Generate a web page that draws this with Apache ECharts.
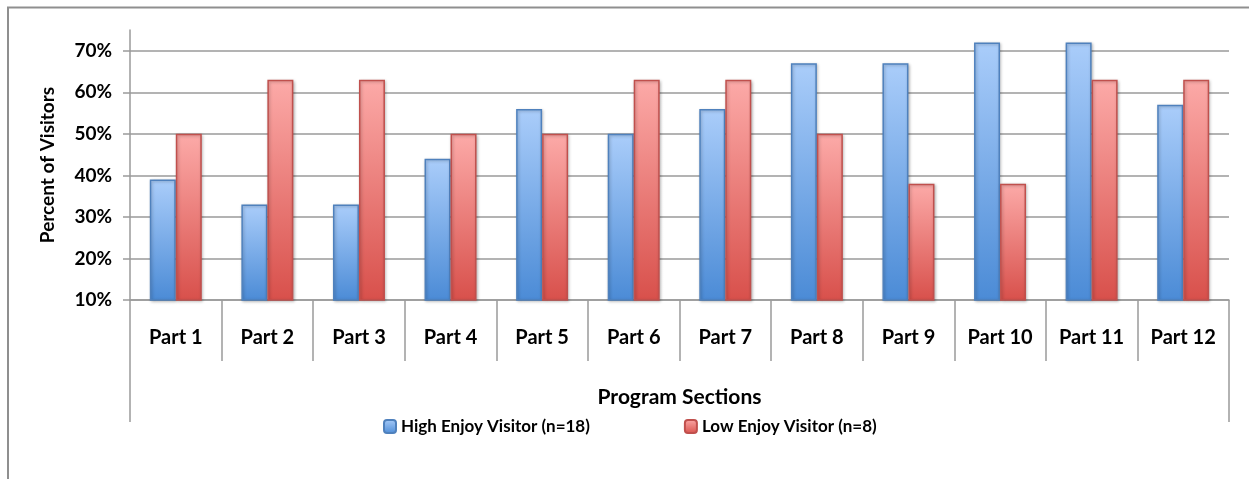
<!DOCTYPE html>
<html>
<head>
<meta charset="utf-8">
<script src="https://cdn.jsdelivr.net/npm/echarts@6/dist/echarts.min.js"></script>
<style>
  html, body { margin: 0; padding: 0; background: #fff; }
  #main { width: 1249px; height: 479px; }
</style>
</head>
<body>
<div id="main"></div>
<script>
// data
var parts = ['Part 1', 'Part 2', 'Part 3', 'Part 4', 'Part 5', 'Part 6',
             'Part 7', 'Part 8', 'Part 9', 'Part 10', 'Part 11', 'Part 12'];
var highEnjoy = [39, 33, 33, 44, 56, 50, 56, 67, 67, 72, 72, 57];
var lowEnjoy  = [50, 63, 63, 50, 50, 63, 63, 50, 38, 38, 63, 63];
var seriesNames = ['High Enjoy Visitor (n=18)', 'Low Enjoy Visitor (n=8)'];

var font = 'Lato, "Open Sans", sans-serif';
var gray = '#9a9a9a';

function grad(top, bottom) {
    return new echarts.graphic.LinearGradient(0, 0, 0, 1, [
        {offset: 0, color: top},
        {offset: 1, color: bottom}
    ]);
}

var chart = echarts.init(document.getElementById('main'));

var option = {
    backgroundColor: '#fff',
    animation: false,
    grid: {left: 130, right: 20, top: 30, bottom: 179, containLabel: false},
    legend: {
        left: 383,
        top: 418,
        padding: 0,
        itemWidth: 12,
        itemHeight: 13,
        itemGap: 94,
        textStyle: {fontFamily: font, fontWeight: 'bold', fontSize: 17, color: '#000'},
        data: seriesNames
    },
    xAxis: [{
        type: 'category',
        data: parts,
        name: 'Program Sections',
        nameLocation: 'middle',
        nameGap: 87,
        nameTextStyle: {fontFamily: font, fontWeight: 'bold', fontSize: 21, color: '#000'},
        axisLine: {lineStyle: {color: gray, width: 1.5}},
        axisTick: {show: true, length: 61, interval: 0, lineStyle: {color: gray, width: 1.5}},
        axisLabel: {margin: 28, interval: 0, fontFamily: font, fontWeight: 'bold', fontSize: 20, color: '#000'}
    }, {
        // outer box of the category group (left and right edge lines)
        type: 'category',
        data: [''],
        position: 'bottom',
        axisLine: {show: false},
        axisTick: {show: true, length: 122, lineStyle: {color: gray, width: 1.5}},
        axisLabel: {show: false}
    }],
    yAxis: {
        type: 'value',
        min: 10,
        max: 75,
        interval: 10,
        name: 'Percent of Visitors',
        nameLocation: 'middle',
        nameGap: 73,
        nameTextStyle: {fontFamily: font, fontWeight: 'bold', fontSize: 19, color: '#000'},
        axisLine: {show: true, lineStyle: {color: gray, width: 1.5}},
        axisTick: {show: true, length: 7, lineStyle: {color: gray, width: 1.5}},
        axisLabel: {
            margin: 18,
            showMaxLabel: false,
            formatter: '{value}%',
            fontFamily: font, fontWeight: 'bold', fontSize: 19, color: '#000'
        },
        splitLine: {show: true, showMaxLine: false, lineStyle: {color: gray, width: 1.5}}
    },
    graphic: [{
        type: 'polyline',
        shape: {points: [[8, 479], [8, 7.5], [1249, 7.5]]},
        style: {stroke: '#8f8f8f', lineWidth: 2, fill: null}
    }],
    series: [{
        name: seriesNames[0],
        type: 'bar',
        data: highEnjoy,
        barWidth: 26,
        barGap: '0%',
        itemStyle: {
            color: grad('#aacdfa', '#4b8bd6'),
            borderColor: '#4f81bd',
            borderWidth: 1.5,
            shadowColor: 'rgba(0,0,0,0.25)',
            shadowBlur: 3,
            shadowOffsetX: 1,
            shadowOffsetY: 1
        }
    }, {
        name: seriesNames[1],
        type: 'bar',
        data: lowEnjoy,
        barWidth: 26,
        itemStyle: {
            color: grad('#fcaaa8', '#d8504b'),
            borderColor: '#c0504d',
            borderWidth: 1.5,
            shadowColor: 'rgba(0,0,0,0.25)',
            shadowBlur: 3,
            shadowOffsetX: 1,
            shadowOffsetY: 1
        }
    }]
};

chart.setOption(option);
</script>
</body>
</html>
